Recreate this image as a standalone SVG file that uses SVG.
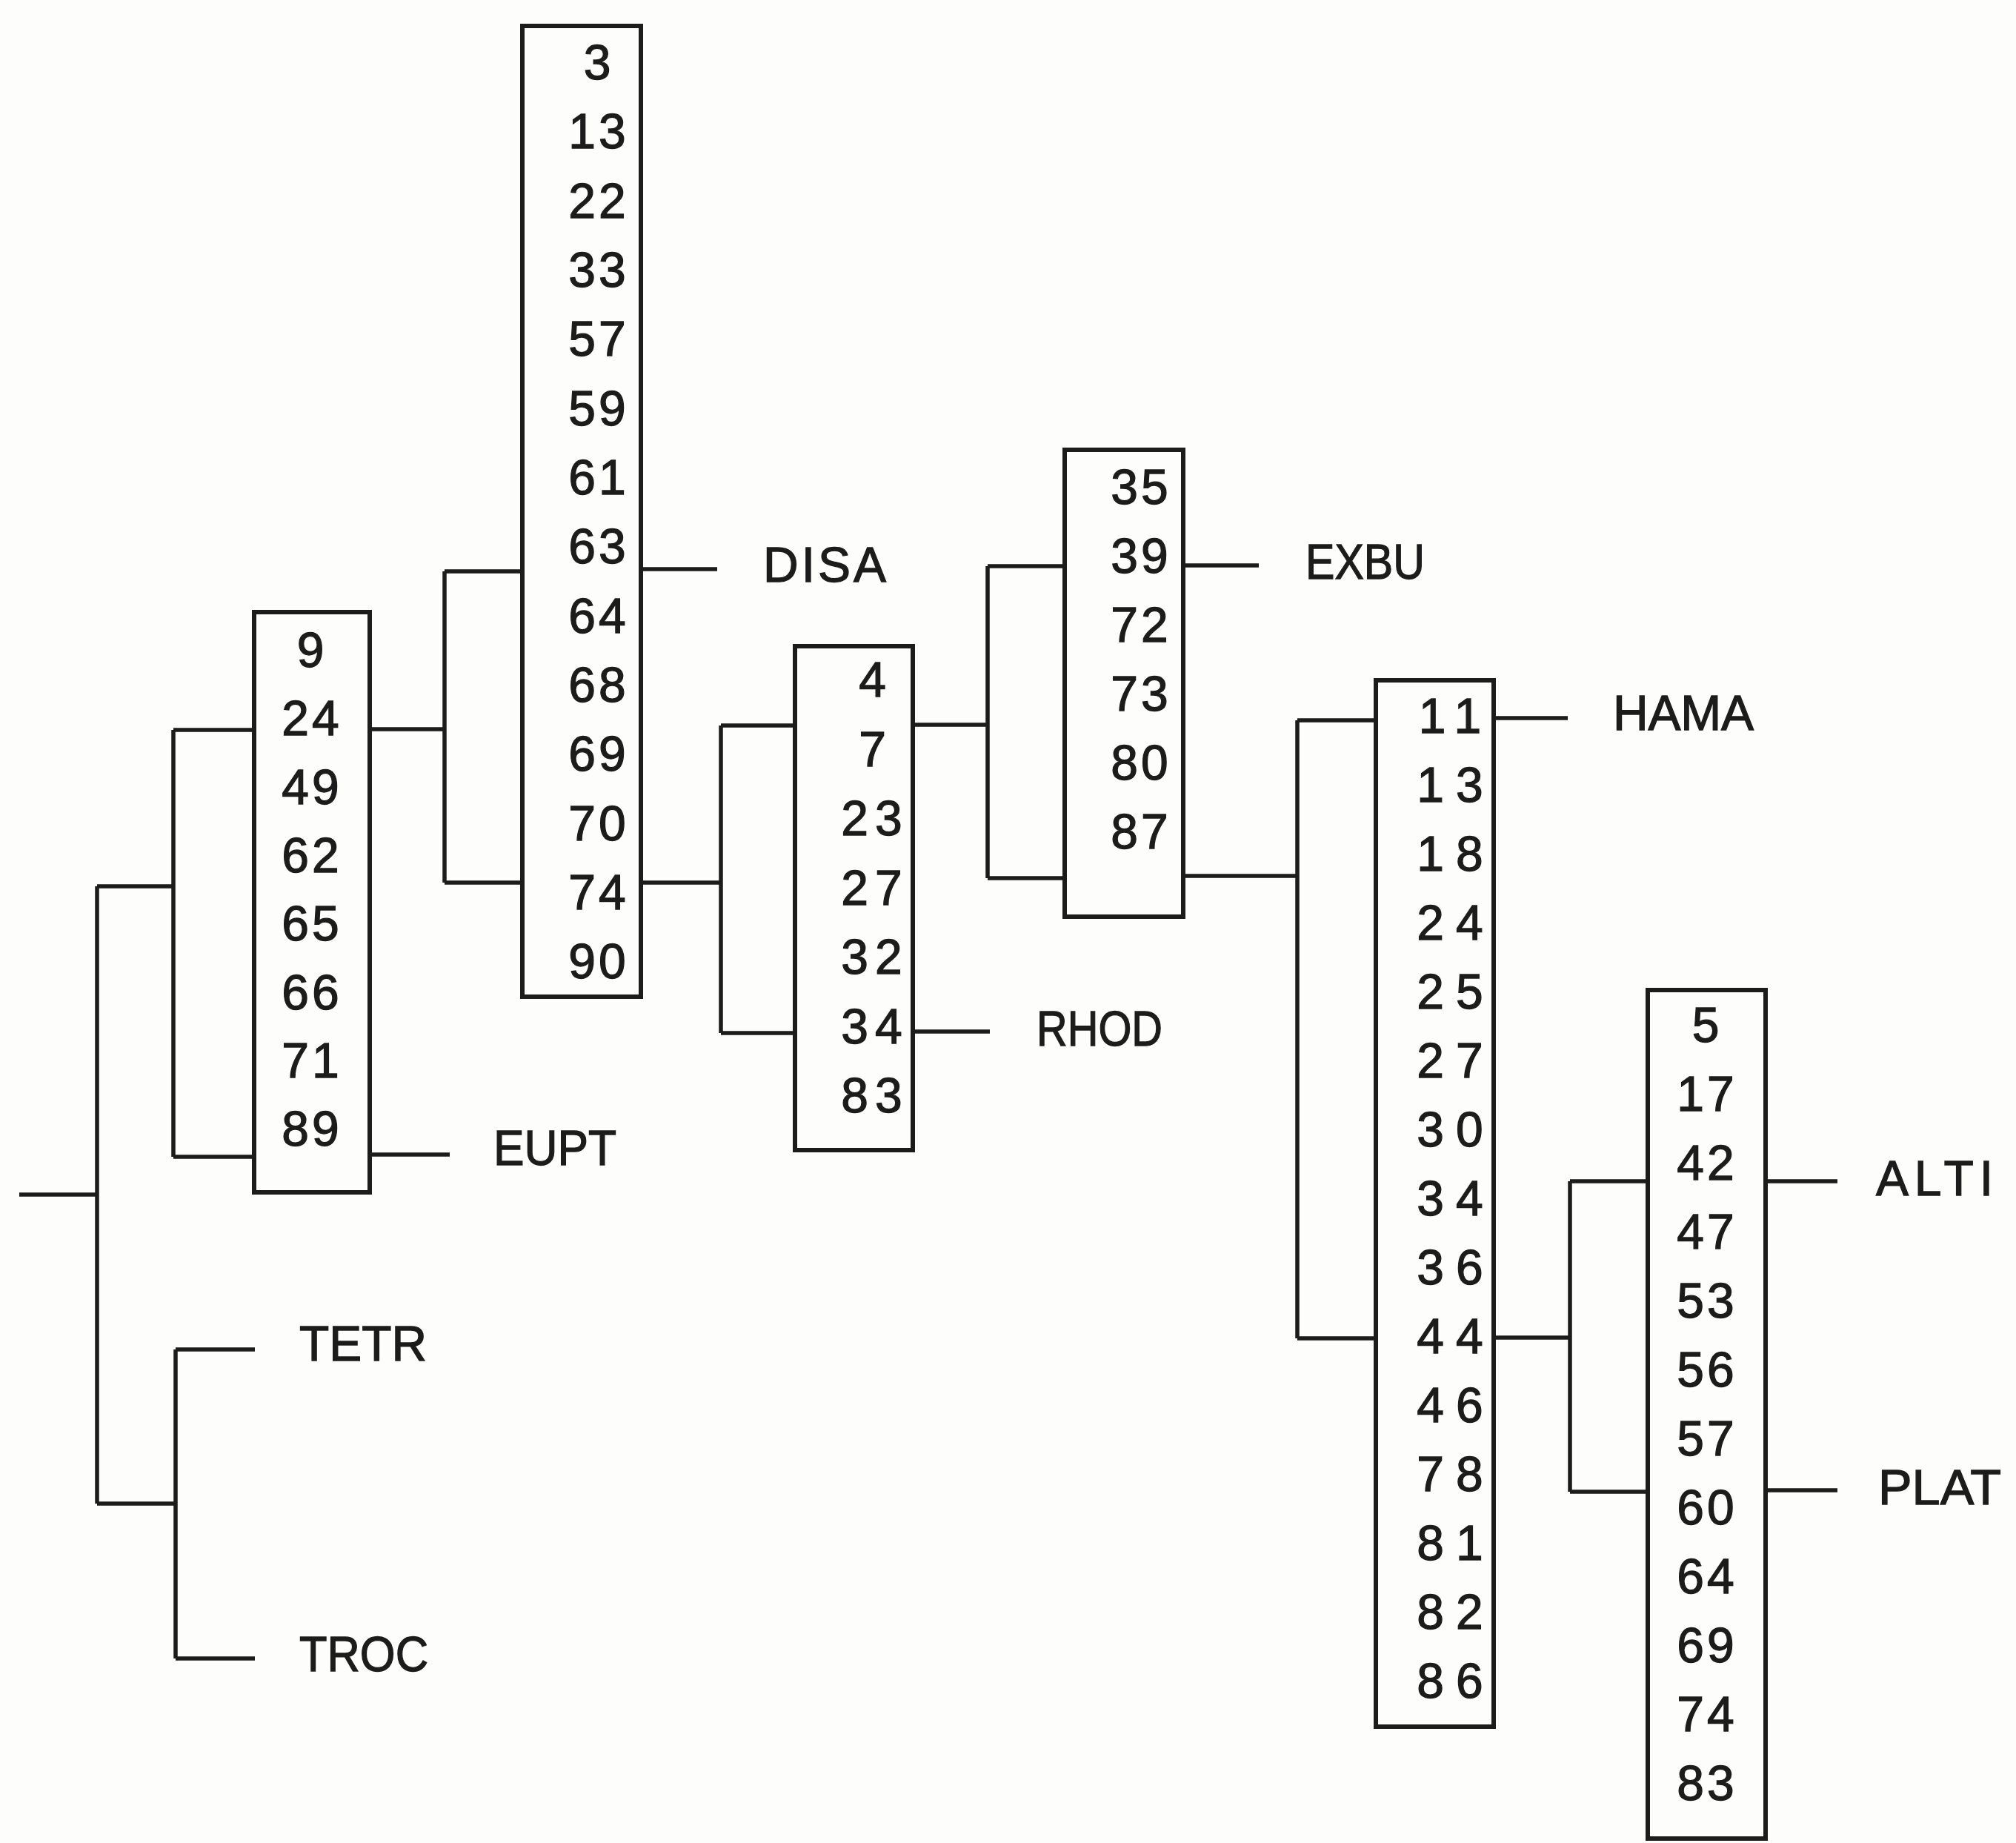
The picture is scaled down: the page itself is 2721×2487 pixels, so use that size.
<svg xmlns="http://www.w3.org/2000/svg" width="2721" height="2487" viewBox="0 0 2721 2487">
<style>
.bg{fill:#fdfdfc}
.box{fill:none;stroke:#1c1c1c;stroke-width:6}
.ln{fill:none;stroke:#1c1c1c;stroke-width:5.5}
text{font-family:"Liberation Sans",Arial,sans-serif;fill:#1c1c1c;stroke:#1c1c1c;stroke-width:1.3px;font-size:66px}
.n{text-anchor:middle;letter-spacing:4px}
.w{text-anchor:middle;letter-spacing:9px}
.ww{text-anchor:middle;letter-spacing:16px}
</style>
<rect class="bg" x="0" y="0" width="2721" height="2487"/>
<g id="connectors">
<path class="ln" d="M26,1612H131M131,1196V2029M131,1196H234M234,985V1561M234,985H343M234,1561H343"/>
<path class="ln" d="M131,2029H237M237,1821V2238M237,1821H344M237,2238H344"/>
<path class="ln" d="M499,984H600M600,771V1191M600,771H705M600,1191H705M499,1558H607"/>
<path class="ln" d="M865,768H968M865,1191H973M973,979V1394M973,979H1073M973,1394H1073"/>
<path class="ln" d="M1232,1392H1336M1232,978H1333M1333,764V1185M1333,764H1437M1333,1185H1437"/>
<path class="ln" d="M1597,763H1699M1597,1182H1751M1751,972V1806M1751,972H1857M1751,1806H1857"/>
<path class="ln" d="M2016,969H2116M2016,1805H2119M2119,1594V2013M2119,1594H2224M2119,2013H2224"/>
<path class="ln" d="M2383,1594H2480M2383,2011H2480"/>
</g>
<g id="box1">
<rect class="box" x="343" y="826" width="156" height="783"/>
<text class="n" x="421" y="900">9</text>
<text class="n" x="421" y="992">24</text>
<text class="n" x="421" y="1085">49</text>
<text class="n" x="421" y="1177">62</text>
<text class="n" x="421" y="1269">65</text>
<text class="n" x="421" y="1362">66</text>
<text class="n" x="421" y="1454">71</text>
<text class="n" x="421" y="1546">89</text>
</g>
<g id="box2">
<rect class="box" x="705" y="35" width="160" height="1310"/>
<text class="n" x="808" y="107">3</text>
<text class="n" x="808" y="200">13</text>
<text class="n" x="808" y="294">22</text>
<text class="n" x="808" y="387">33</text>
<text class="n" x="808" y="480">57</text>
<text class="n" x="808" y="574">59</text>
<text class="n" x="808" y="667">61</text>
<text class="n" x="808" y="760">63</text>
<text class="n" x="808" y="854">64</text>
<text class="n" x="808" y="947">68</text>
<text class="n" x="808" y="1040">69</text>
<text class="n" x="808" y="1134">70</text>
<text class="n" x="808" y="1227">74</text>
<text class="n" x="808" y="1320">90</text>
</g>
<g id="box3">
<rect class="box" x="1073" y="872" width="159" height="680"/>
<text class="w" x="1182" y="940">4</text>
<text class="w" x="1182" y="1034">7</text>
<text class="w" x="1181" y="1127">23</text>
<text class="w" x="1181" y="1221">27</text>
<text class="w" x="1181" y="1314">32</text>
<text class="w" x="1181" y="1408">34</text>
<text class="w" x="1181" y="1501">83</text>
</g>
<g id="box4">
<rect class="box" x="1437" y="607" width="160" height="630"/>
<text class="n" x="1540" y="680">35</text>
<text class="n" x="1540" y="773">39</text>
<text class="n" x="1540" y="866">72</text>
<text class="n" x="1540" y="959">73</text>
<text class="n" x="1540" y="1052">80</text>
<text class="n" x="1540" y="1145">87</text>
</g>
<g id="box5">
<rect class="box" x="1857" y="918" width="159" height="1412"/>
<text class="ww" x="1965" y="989">11</text>
<text class="ww" x="1965" y="1082">13</text>
<text class="ww" x="1965" y="1175">18</text>
<text class="ww" x="1965" y="1268">24</text>
<text class="ww" x="1965" y="1361">25</text>
<text class="ww" x="1965" y="1454">27</text>
<text class="ww" x="1965" y="1547">30</text>
<text class="ww" x="1965" y="1640">34</text>
<text class="ww" x="1965" y="1733">36</text>
<text class="ww" x="1965" y="1826">44</text>
<text class="ww" x="1965" y="1919">46</text>
<text class="ww" x="1965" y="2012">78</text>
<text class="ww" x="1965" y="2105">81</text>
<text class="ww" x="1965" y="2198">82</text>
<text class="ww" x="1965" y="2291">86</text>
</g>
<g id="box6">
<rect class="box" x="2224" y="1336" width="159" height="1145"/>
<text class="n" x="2304" y="1406">5</text>
<text class="n" x="2304" y="1499">17</text>
<text class="n" x="2304" y="1592">42</text>
<text class="n" x="2304" y="1685">47</text>
<text class="n" x="2304" y="1778">53</text>
<text class="n" x="2304" y="1871">56</text>
<text class="n" x="2304" y="1964">57</text>
<text class="n" x="2304" y="2057">60</text>
<text class="n" x="2304" y="2150">64</text>
<text class="n" x="2304" y="2243">69</text>
<text class="n" x="2304" y="2336">74</text>
<text class="n" x="2304" y="2429">83</text>
</g>
<g id="EUPT"><text x="666" y="1572" textLength="166" lengthAdjust="spacingAndGlyphs">EUPT</text></g>
<g id="DISA"><text x="1030" y="785" textLength="166" lengthAdjust="spacing">DISA</text></g>
<g id="RHOD"><text x="1399" y="1411" textLength="170" lengthAdjust="spacingAndGlyphs">RHOD</text></g>
<g id="EXBU"><text x="1762" y="781" textLength="161" lengthAdjust="spacingAndGlyphs">EXBU</text></g>
<g id="HAMA"><text x="2177" y="985" textLength="190" lengthAdjust="spacing">HAMA</text></g>
<g id="TETR"><text x="404" y="1836" textLength="172" lengthAdjust="spacingAndGlyphs">TETR</text></g>
<g id="TROC"><text x="404" y="2255" textLength="174" lengthAdjust="spacingAndGlyphs">TROC</text></g>
<g id="ALTI"><text x="2532" y="1613" textLength="158" lengthAdjust="spacing">ALTI</text></g>
<g id="PLAT"><text x="2535" y="2030" textLength="166" lengthAdjust="spacingAndGlyphs">PLAT</text></g>
</svg>
